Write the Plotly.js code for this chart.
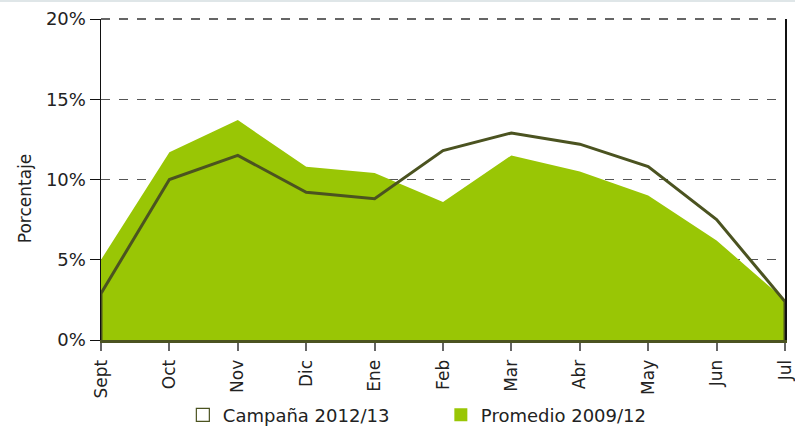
<!DOCTYPE html>
<html><head><meta charset="utf-8">
<script src="https://cdn.plot.ly/plotly-3.0.1.min.js"></script>
<style>html,body{margin:0;padding:0;background:#fff;}#chart{width:795px;height:428px;}</style>
</head><body><div id="chart"></div>
<script>
const months = ["Sept","Oct","Nov","Dic","Ene","Feb","Mar","Abr","May","Jun","Jul"];
const campana = [2.9,10.0,11.5,9.2,8.8,11.8,12.9,12.2,10.8,7.5,2.4];
const promedio = [5.0,11.7,13.7,10.8,10.4,8.6,11.5,10.5,9.0,6.2,2.5];
const yTicks = [0,5,10,15,20];
const yTickText = ["0%","5%","10%","15%","20%"];

const olive = "#4B5320";
const green = "#99C605";
const FONT = "DejaVu Sans, sans-serif";

const lineX = [months[0]].concat(months, [months[months.length-1]]);
const lineY = [0].concat(campana, [0]);

const traces = [
  {x: months, y: promedio, type: "scatter", mode: "lines", fill: "tozeroy",
   fillcolor: green, line: {width: 0, color: green}, showlegend: false, hoverinfo: "skip"},
  {x: lineX, y: lineY, type: "scatter", mode: "lines",
   line: {color: olive, width: 3}, showlegend: false, hoverinfo: "skip"},
  {x: [null], y: [null], type: "scatter", mode: "markers", name: "Campaña 2012/13",
   marker: {symbol: "square", size: 13, color: "#fff", line: {color: olive, width: 1.2}}},
  {x: [null], y: [null], type: "scatter", mode: "markers", name: "Promedio 2009/12",
   marker: {symbol: "square", size: 13, color: green, line: {width: 0}}}
];

const layout = {
  width: 795, height: 428,
  margin: {l: 101, r: 10, t: 19, b: 88},
  paper_bgcolor: "#fff", plot_bgcolor: "#fff",
  font: {family: FONT, color: "#222"},
  showlegend: true,
  legend: {orientation: "h", xref: "container", yref: "container",
           x: 0.23, xanchor: "left", y: 0.03, yanchor: "middle",
           font: {family: FONT, size: 18, color: "#222"}, entrywidth: 213, entrywidthmode: "pixels",
           itemwidth: 30, tracegroupgap: 0, bgcolor: "rgba(0,0,0,0)"},
  xaxis: {type: "category", range: [0, 10], showgrid: false, zeroline: false,
          showline: true, linecolor: olive, linewidth: 3,
          ticks: "outside", ticklen: 8, tickcolor: "#666", tickwidth: 2, ticklabelstandoff: 2,
          tickangle: -90, tickfont: {family: FONT, size: 17, color: "#222"}, fixedrange: true},
  yaxis: {range: [0, 20], tickvals: yTicks, ticktext: yTickText,
          showgrid: true, gridcolor: "#555", griddash: "dash", gridwidth: 1,
          zeroline: false, showline: true, mirror: true, linecolor: "#111", linewidth: 1.5,
          ticks: "outside", ticklen: 10, tickcolor: "#111",
          tickfont: {family: FONT, size: 18, color: "#222"}, fixedrange: true},
  annotations: [{text: "Porcentaje", xref: "paper", yref: "paper", x: -0.111, y: 0.442,
                 xanchor: "center", yanchor: "middle", textangle: -90, showarrow: false,
                 font: {family: FONT, size: 17, color: "#222"}}],
  shapes: [
    {type: "rect", xref: "paper", yref: "paper", x0: -0.2, x1: 1.1,
     y0: 1.053, y1: 1.07, fillcolor: "#dfe6e8", line: {width: 0}},
    {type: "line", xref: "paper", yref: "paper", x0: 0, x1: 1, y0: 1, y1: 1,
     line: {color: "#333", width: 1.5, dash: "dash"}}
  ]
};

Plotly.newPlot("chart", traces, layout, {displayModeBar: false, staticPlot: true});
</script></body></html>
